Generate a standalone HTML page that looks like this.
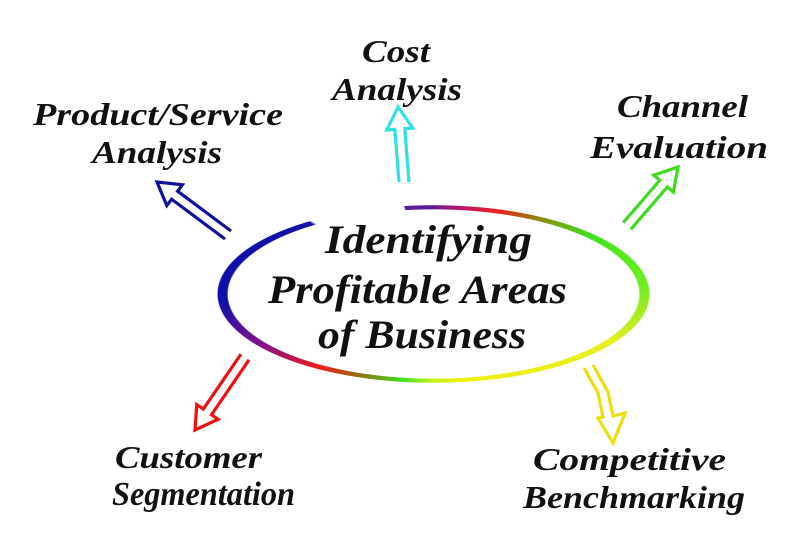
<!DOCTYPE html>
<html><head><meta charset="utf-8"><style>
html,body{margin:0;padding:0;background:#fff;}
#wrap{position:relative;width:800px;height:557px;overflow:hidden;background:#fff;}
#ring{position:absolute;left:217px;top:205px;width:433px;height:178px;
background:conic-gradient(from 0deg at 50% 50%,#6a1a8a 0deg,#c0186a 20deg,#ee1c1c 38deg,#8a8a10 55deg,#40e020 70deg,#70ee20 88deg,#e8ee20 105deg,#f0ee10 160deg,#c8ee20 180deg,#40e020 200deg,#7a8a10 218deg,#ee1c1c 238deg,#7a1090 255deg,#1010a8 268deg,#1010a8 300deg,#fff 301deg,#fff 341deg,#5a1a9a 342deg);
-webkit-mask:radial-gradient(ellipse closest-side,transparent 94.8%,#000 95.4%,#000 99.5%,transparent 100%);
mask:radial-gradient(ellipse closest-side,transparent 94.8%,#000 95.4%,#000 99.5%,transparent 100%);}
svg{position:absolute;left:0;top:0;}
text{font-family:"Liberation Serif",serif;font-style:italic;font-weight:bold;fill:#111;}
</style></head><body><div id="wrap">
<div id="ring"></div>
<svg width="800" height="557" viewBox="0 0 800 557">
<g fill="none" stroke-width="3.2" stroke-linejoin="miter">
<polyline stroke="#10109a" points="225,239 171.6,199.2 166.8,205.6 157,182 182.4,184.8 177.6,191.2 231,231"/>
<polyline stroke="#30e0e0" points="399,182 394.8,129.4 386.8,130 398,107 412.8,128 404.8,128.6 409,182"/>
<polyline stroke="#40d820" points="623.2,222.7 659.8,180.3 653.8,175.1 678,167 673.4,192.1 667.4,186.9 630.8,229.3"/>
<polyline stroke="#ee1010" points="240.9,354.2 203.3,409.1 196.7,404.6 195,430 218.1,419.2 211.5,414.7 249.1,359.8"/>
<polyline stroke="#e8e010" points="584,368 598,393 603,417 598,418 613,443 625,413 613,416 608,392 593,365"/>
</g>
<text x="325" y="253" font-size="40" textLength="207" lengthAdjust="spacingAndGlyphs">Identifying</text>
<text x="268" y="303" font-size="40" textLength="299" lengthAdjust="spacingAndGlyphs">Profitable Areas</text>
<text x="318" y="348" font-size="40" textLength="208" lengthAdjust="spacingAndGlyphs">of Business</text>
<text x="362" y="62" font-size="32" textLength="68" lengthAdjust="spacingAndGlyphs">Cost</text>
<text x="332" y="100" font-size="32" textLength="130" lengthAdjust="spacingAndGlyphs">Analysis</text>
<text x="33" y="125" font-size="32" textLength="250" lengthAdjust="spacingAndGlyphs">Product/Service</text>
<text x="92" y="163" font-size="32" textLength="130" lengthAdjust="spacingAndGlyphs">Analysis</text>
<text x="617" y="117" font-size="32" textLength="131" lengthAdjust="spacingAndGlyphs">Channel</text>
<text x="590" y="158" font-size="32" textLength="178" lengthAdjust="spacingAndGlyphs">Evaluation</text>
<text x="115" y="468" font-size="32" textLength="147" lengthAdjust="spacingAndGlyphs">Customer</text>
<text x="112" y="505" font-size="34" textLength="183" lengthAdjust="spacingAndGlyphs">Segmentation</text>
<text x="533" y="470" font-size="32" textLength="193" lengthAdjust="spacingAndGlyphs">Competitive</text>
<text x="523" y="508" font-size="32" textLength="222" lengthAdjust="spacingAndGlyphs">Benchmarking</text>
</svg>
</div></body></html>
